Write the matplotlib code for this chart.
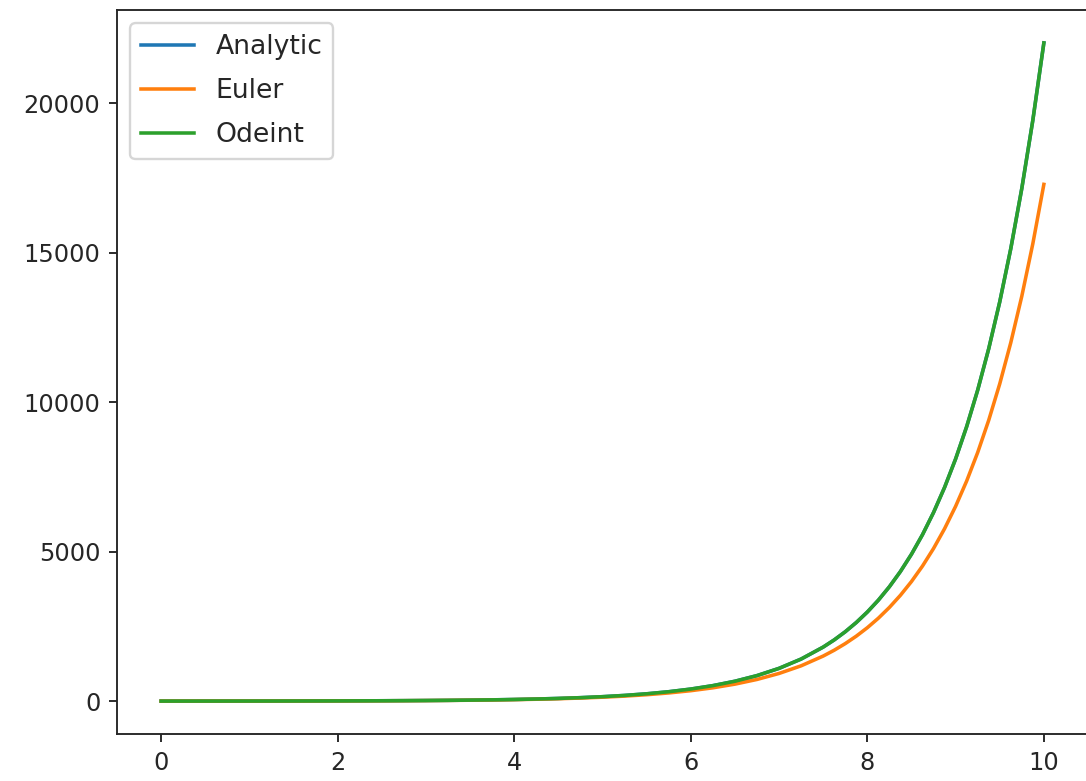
import matplotlib
matplotlib.use("Agg")
import matplotlib.pyplot as plt

t = [0.0, 0.25, 0.5, 0.75, 1.0, 1.25, 1.5, 1.75, 2.0, 2.25, 2.5, 2.75, 3.0, 3.25, 3.5, 3.75,
     4.0, 4.25, 4.5, 4.75, 5.0, 5.25, 5.5, 5.75, 6.0, 6.25, 6.5, 6.75, 7.0, 7.25, 7.5,
     7.625, 7.75, 7.875, 8.0, 8.125, 8.25, 8.375, 8.5, 8.625, 8.75, 8.875, 9.0, 9.125,
     9.25, 9.375, 9.5, 9.625, 9.75, 9.875, 10.0]

analytic = [1.0, 1.28, 1.65, 2.12, 2.72, 3.49, 4.48, 5.75, 7.39, 9.49, 12.18, 15.64, 20.09,
            25.79, 33.12, 42.52, 54.60, 70.11, 90.02, 115.58, 148.41, 190.57, 244.69, 314.19,
            403.43, 518.01, 665.14, 854.06, 1096.63, 1408.10, 1808.04,
            2048.7, 2321.57, 2630.7, 2980.96, 3377.9, 3827.63, 4337.3, 4914.77, 5569.2,
            6310.69, 7151.0, 8103.08, 9182.0, 10404.57, 11790.0, 13359.73, 15138.6,
            17154.23, 19438.3, 22026.47]

euler = [1.0, 1.28, 1.63, 2.08, 2.65, 3.39, 4.32, 5.52, 7.04, 8.99, 11.47, 14.64, 18.68,
         23.84, 30.43, 38.83, 49.56, 63.25, 80.73, 103.04, 131.50, 167.83, 214.20, 273.38,
         348.91, 445.31, 568.34, 725.36, 925.77, 1181.5, 1508.0,
         1703.6, 1924.6, 2174.3, 2456.4, 2775.0, 3135.0, 3541.7, 4001.2, 4520.2,
         5106.7, 5769.2, 6517.6, 7363.1, 8318.2, 9397.2, 10616.3, 11993.5,
         13549.4, 15307.2, 17292.6]

odeint = [1.0, 1.28, 1.65, 2.12, 2.72, 3.49, 4.48, 5.75, 7.39, 9.49, 12.18, 15.64, 20.09,
          25.79, 33.12, 42.52, 54.60, 70.11, 90.02, 115.58, 148.41, 190.57, 244.69, 314.19,
          403.43, 518.01, 665.14, 854.06, 1096.63, 1408.10, 1808.04,
          2048.7, 2321.57, 2630.7, 2980.96, 3377.9, 3827.63, 4337.3, 4914.77, 5569.2,
          6310.69, 7151.0, 8103.08, 9182.0, 10404.57, 11790.0, 13359.73, 15138.6,
          17154.23, 19438.3, 22026.47]

ink = "#262626"
plt.rcParams.update({
    "text.color": ink, "axes.edgecolor": ink, "xtick.color": ink, "ytick.color": ink,
    "xtick.labelcolor": ink, "ytick.labelcolor": ink, "font.size": 10.2,
})

fig = plt.figure(figsize=(1086 / 170, 781 / 170), dpi=170)
ax = fig.add_axes([117 / 1086, 47 / 781, 971 / 1086, 724 / 781])
ax.plot(t, analytic, label="Analytic")
ax.plot(t, euler, label="Euler")
ax.plot(t, odeint, label="Odeint")
ax.legend(loc="upper left", fontsize=11.3, labelspacing=0.68)
fig.savefig("out.png", dpi=170)
